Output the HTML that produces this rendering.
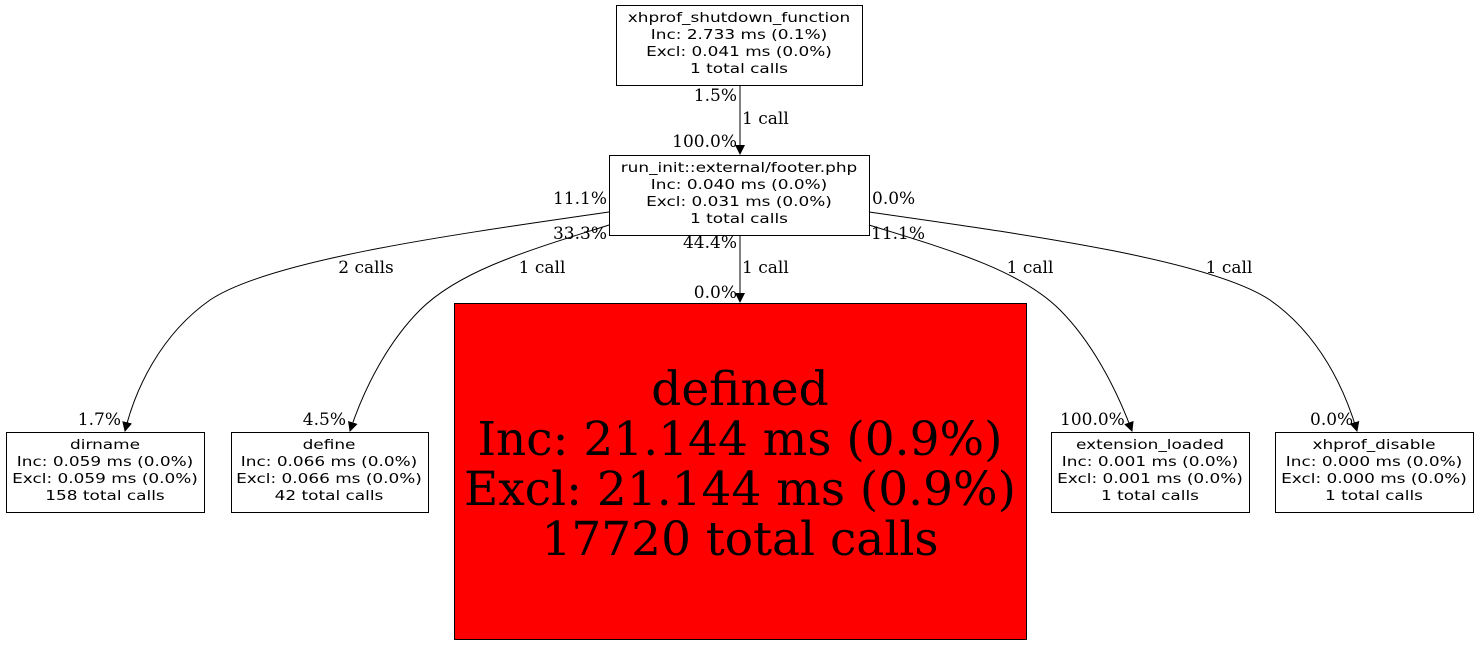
<!DOCTYPE html>
<html><head><meta charset="utf-8"><style>
html,body{margin:0;padding:0;background:#fff;width:1480px;height:645px;overflow:hidden}
.n{font-family:"DejaVu Sans","Liberation Sans",sans-serif;font-size:13px;fill:#000}
.e{font-family:"DejaVu Serif","Liberation Serif",serif;font-size:17px}
.big{font-family:"DejaVu Serif","Liberation Serif",serif;font-size:47px}
</style></head><body>
<svg width="1480" height="645" xmlns="http://www.w3.org/2000/svg">
<defs><marker id="a" markerWidth="10" markerHeight="12" refX="9" refY="6" orient="auto" markerUnits="userSpaceOnUse"><path d="M0,1 L10,6 L0,11 Z" fill="#000"/></marker></defs>
<g fill="none" stroke="#000" stroke-width="1">
<rect x="616.5" y="5.5" width="246" height="80"/>
<rect x="609.5" y="155.5" width="260" height="80"/>
<rect x="454.5" y="303.5" width="572" height="336" fill="#ff0000"/>
<rect x="6.5" y="432.5" width="198" height="80"/>
<rect x="231.5" y="432.5" width="197" height="80"/>
<rect x="1051.5" y="432.5" width="198" height="80"/>
<rect x="1275.5" y="432.5" width="198" height="80"/>
<path d="M740,85 L740,154" marker-end="url(#a)"/>
<path d="M740,235 L740,302" marker-end="url(#a)"/>
<path d="M609,212 C450,235 270,260 210,300 C160,335 135,390 125,431" marker-end="url(#a)"/>
<path d="M609,225 C530,250 460,270 420,310 C390,340 365,385 350,431" marker-end="url(#a)"/>
<path d="M869,225 C950,250 1020,270 1060,310 C1090,340 1115,385 1132,431" marker-end="url(#a)"/>
<path d="M869,212 C1030,235 1210,260 1270,300 C1320,335 1345,390 1357,431" marker-end="url(#a)"/>
</g>
<g class="n" text-anchor="middle">
<g transform="translate(739,0) scale(1.3,1)"><text x="0" y="22">xhprof_shutdown_function</text><text x="0" y="39">Inc: 2.733 ms (0.1%)</text><text x="0" y="56">Excl: 0.041 ms (0.0%)</text><text x="0" y="73">1 total calls</text></g>
<g transform="translate(739,0) scale(1.3,1)"><text x="0" y="172">run_init::external/footer.php</text><text x="0" y="189">Inc: 0.040 ms (0.0%)</text><text x="0" y="206">Excl: 0.031 ms (0.0%)</text><text x="0" y="223">1 total calls</text></g>
<g transform="translate(105,0) scale(1.3,1)"><text x="0" y="449">dirname</text><text x="0" y="466">Inc: 0.059 ms (0.0%)</text><text x="0" y="483">Excl: 0.059 ms (0.0%)</text><text x="0" y="500">158 total calls</text></g>
<g transform="translate(329,0) scale(1.3,1)"><text x="0" y="449">define</text><text x="0" y="466">Inc: 0.066 ms (0.0%)</text><text x="0" y="483">Excl: 0.066 ms (0.0%)</text><text x="0" y="500">42 total calls</text></g>
<g transform="translate(1150,0) scale(1.3,1)"><text x="0" y="449">extension_loaded</text><text x="0" y="466">Inc: 0.001 ms (0.0%)</text><text x="0" y="483">Excl: 0.001 ms (0.0%)</text><text x="0" y="500">1 total calls</text></g>
<g transform="translate(1374,0) scale(1.3,1)"><text x="0" y="449">xhprof_disable</text><text x="0" y="466">Inc: 0.000 ms (0.0%)</text><text x="0" y="483">Excl: 0.000 ms (0.0%)</text><text x="0" y="500">1 total calls</text></g>
</g>
<g class="big" text-anchor="middle">
<text x="740" y="405">defined</text><text x="740" y="455">Inc: 21.144 ms (0.9%)</text><text x="740" y="505">Excl: 21.144 ms (0.9%)</text><text x="740" y="555">17720 total calls</text>
</g>
<g class="e">
<text x="737" y="101" text-anchor="end">1.5%</text>
<text x="742" y="124">1 call</text>
<text x="737" y="147" text-anchor="end">100.0%</text>
<text x="737" y="248" text-anchor="end">44.4%</text>
<text x="742" y="273">1 call</text>
<text x="737" y="298" text-anchor="end">0.0%</text>
<text x="607" y="204" text-anchor="end">11.1%</text>
<text x="607" y="239" text-anchor="end">33.3%</text>
<text x="872" y="204">0.0%</text>
<text x="871" y="239">11.1%</text>
<text x="366" y="273" text-anchor="middle">2 calls</text>
<text x="542" y="273" text-anchor="middle">1 call</text>
<text x="1030" y="273" text-anchor="middle">1 call</text>
<text x="1229" y="273" text-anchor="middle">1 call</text>
<text x="121" y="425" text-anchor="end">1.7%</text>
<text x="346" y="425" text-anchor="end">4.5%</text>
<text x="1060" y="425">100.0%</text>
<text x="1310" y="425">0.0%</text>
</g>
</svg>
</body></html>
